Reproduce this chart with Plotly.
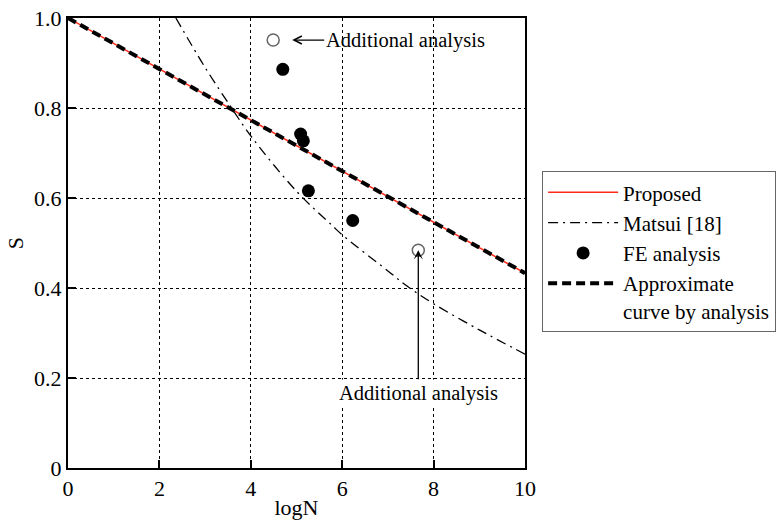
import plotly.graph_objects as go

# ---- data ----
proposed_x = [0, 10]
proposed_s = [1.0, 0.433]

matsui_x = [2.36, 3.0, 3.58, 4.0, 5.0, 5.77, 6.0, 7.0, 7.41, 8.0, 9.0, 10.0]
matsui_s = [1.0, 0.89, 0.80, 0.738, 0.615, 0.540, 0.518, 0.438, 0.405, 0.365, 0.307, 0.253]

fe_x = [4.70, 5.09, 5.15, 5.26, 6.23]
fe_s = [0.886, 0.742, 0.727, 0.616, 0.550]

add_x = [4.49, 7.665]
add_s = [0.951, 0.484]

approx_x = [0, 10]
approx_s = [1.0, 0.433]

x_ticks = [0, 2, 4, 6, 8, 10]
x_ticklabels = ["0", "2", "4", "6", "8", "10"]
y_ticks = [0, 0.2, 0.4, 0.6, 0.8, 1.0]
y_ticklabels = ["0", "0.2", "0.4", "0.6", "0.8", "1.0"]

FONT = "'Liberation Serif', 'Times New Roman', Times, serif"

fig = go.Figure()

fig.add_trace(go.Scatter(
    x=proposed_x, y=proposed_s, mode="lines", name="Proposed",
    line=dict(color="#ff2a1a", width=1.5)))

fig.add_trace(go.Scatter(
    x=matsui_x, y=matsui_s, mode="lines", name="Matsui [18]",
    line=dict(color="black", width=1.3, dash="10px,5px,2px,5px", shape="spline")))

fig.add_trace(go.Scatter(
    x=fe_x, y=fe_s, mode="markers", name="FE analysis",
    marker=dict(color="black", size=13, line=dict(width=0))))

fig.add_trace(go.Scatter(
    x=add_x, y=add_s, mode="markers", showlegend=False,
    marker=dict(color="white", size=12, line=dict(color="#666666", width=1.5))))

fig.add_trace(go.Scatter(
    x=approx_x, y=approx_s, mode="lines",
    name="Approximate<br>curve by analysis",
    line=dict(color="black", width=4, dash="9px,5px")))

axis_common = dict(
    showline=True, linecolor="black", linewidth=2, mirror=True,
    ticks="inside", ticklen=8, tickwidth=2, tickcolor="black",
    showgrid=True, gridcolor="black", gridwidth=1, griddash="dot",
    zeroline=False, automargin=False,
    tickfont=dict(family=FONT, size=22, color="black"),
)

fig.update_xaxes(range=[0, 10], tickvals=x_ticks, ticktext=x_ticklabels,
                 title=dict(text="logN", font=dict(family=FONT, size=22, color="black"), standoff=0),
                 **axis_common)
fig.update_yaxes(range=[0, 1.0], tickvals=y_ticks, ticktext=y_ticklabels,
                 title=dict(text="S", font=dict(family=FONT, size=22, color="black"), standoff=4),
                 **axis_common)

fig.add_annotation(
    x=add_x[0], y=add_s[0], xref="x", yref="y",
    text="Additional analysis", showarrow=True,
    ax=132, ay=0, arrowhead=5, arrowsize=1.2, arrowwidth=1.3, arrowcolor="black",
    standoff=19, font=dict(family=FONT, size=20.5, color="black"))

fig.add_annotation(
    x=add_x[1], y=add_s[1], xref="x", yref="y",
    text="Additional analysis", showarrow=True,
    ax=0, ay=143, arrowhead=3, arrowsize=1.2, arrowwidth=1.3, arrowcolor="black",
    standoff=0, bgcolor="white", borderpad=2,
    font=dict(family=FONT, size=20.5, color="black"))

fig.update_layout(
    width=783, height=520,
    margin=dict(l=68, r=258, t=18, b=52, autoexpand=False),
    paper_bgcolor="white", plot_bgcolor="white",
    font=dict(family=FONT, size=22, color="black"),
    legend=dict(x=1.037, y=0.66, xanchor="left", yanchor="top",
                bordercolor="#666666", borderwidth=1.2, bgcolor="white",
                font=dict(family=FONT, size=21, color="black"),
                valign="top", tracegroupgap=0, itemwidth=70),
    showlegend=True,
)

fig.write_html("out.html", config={"displayModeBar": False},
               post_script="document.body.style.margin='0';document.body.style.padding='0';")
